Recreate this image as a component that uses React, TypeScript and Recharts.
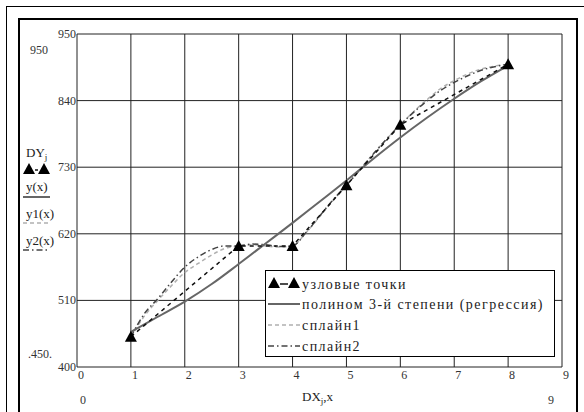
import React from 'react';
import { LineChart, Line, XAxis, YAxis, CartesianGrid } from 'recharts';

// axes
const X_TICKS = [0, 1, 2, 3, 4, 5, 6, 7, 8, 9];
const Y_TICKS = [400, 510, 620, 730, 840, 950];

// node points DX_j, DY_j
const NODE_X = [1, 3, 4, 5, 6, 8];
const NODE_Y = [450, 600, 600, 700, 800, 900];

// cubic regression y(x)
const POLY_X = [1, 1.5, 2, 2.5, 3, 3.5, 4, 4.5, 5, 5.5, 6, 6.5, 7, 7.5, 8];
const POLY_Y = [458, 483, 508, 537, 570, 604, 638, 673, 708, 744, 779, 812, 843, 872, 898];

// splines y1(x), y2(x)
const SPLINE_X = [1, 1.25, 1.5, 1.75, 2, 2.25, 2.5, 2.75, 3, 3.25, 3.5, 3.75, 4, 4.25, 4.5, 4.75, 5, 5.25, 5.5, 5.75, 6, 6.25, 6.5, 6.75, 7, 7.25, 7.5, 7.75, 8];
const SPLINE1_Y = [450, 484, 510, 534, 556, 571, 585, 596, 600, 602, 600, 598, 600, 622, 648, 675, 700, 726, 752, 777, 800, 822, 842, 860, 873, 884, 892, 897, 900];
const SPLINE2_Y = [450, 488, 513, 540, 565, 582, 594, 600, 600, 603, 602, 599, 600, 622, 649, 676, 700, 726, 752, 777, 800, 821, 840, 857, 870, 881, 890, 896, 900];

const LEGEND_LABELS = ['узловые точки', 'полином 3-й степени (регрессия)', 'сплайн1', 'сплайн2'];

const zip = (xs: number[], ys: number[]) => xs.map((x, i) => ({ x, y: ys[i] }));
const nodes = zip(NODE_X, NODE_Y);
const poly = zip(POLY_X, POLY_Y);
const spline1 = zip(SPLINE_X, SPLINE1_Y);
const spline2 = zip(SPLINE_X, SPLINE2_Y);

const FONT = '"Liberation Serif", "DejaVu Serif", serif';
const STYLES = {
  nodes: { stroke: '#111', strokeWidth: 1.5, strokeDasharray: '4 4' },
  poly: { stroke: '#666', strokeWidth: 2, strokeDasharray: undefined },
  s1: { stroke: '#b0b0b0', strokeWidth: 1.5, strokeDasharray: '4 3' },
  s2: { stroke: '#444', strokeWidth: 1.5, strokeDasharray: '6 3 1.5 3' },
};

const tri = (cx: number, cy: number) => `M${cx},${cy - 6} L${cx + 6},${cy + 5} L${cx - 6},${cy + 5} Z`;

const Triangle = (p: any) => (p.cx == null ? null : <path d={tri(p.cx, p.cy)} fill="#000" />);

// plot box: x 77..562, y 34..367
const XTick = ({ x, y, payload }: any) => (
  <text x={x + 1} y={y + 12} fontFamily={FONT} fontSize={12} fill="#333">{payload.value}</text>
);
const YTick = ({ x, y, payload }: any) => (
  <text x={x - 1} y={y + 4} textAnchor="end" fontFamily={FONT} fontSize={12} fill="#333">{payload.value}</text>
);

const Sample = ({ kind, x, y, w }: { kind: string; x: number; y: number; w: number }) => {
  if (kind === 'nodes')
    return (
      <g>
        <path d={tri(x + 6, y - 1)} fill="#000" />
        <line x1={x + 12} x2={x + w - 12} y1={y} y2={y} stroke="#111" strokeWidth={1.5} />
        <path d={tri(x + w - 6, y - 1)} fill="#000" />
      </g>
    );
  const s = (STYLES as any)[kind];
  return <line x1={x} x2={x + w} y1={y} y2={y} stroke={s.stroke} strokeWidth={s.strokeWidth} strokeDasharray={s.strokeDasharray} />;
};

export default function App() {
  const kinds = ['nodes', 'poly', 's1', 's2'];
  const rowY = [284, 304, 325, 346];
  return (
    <div style={{ position: 'absolute', left: 0, top: 0, width: 584, height: 412, background: '#fff', overflow: 'hidden' }}>
      <svg width={584} height={412} style={{ position: 'absolute', left: 0, top: 0 }} fontFamily={FONT}>
        <rect x={6.5} y={6.5} width={640} height={440} fill="none" stroke="#000" strokeWidth={1} />
        <path d="M19,420 L19,19 L577,19 L577,420" fill="none" stroke="#000" strokeWidth={2} />
        <text x={30} y={54} fontSize={12} fill="#333">950</text>
        <text x={26} y={157} fontSize={13} fill="#222">DY<tspan fontSize={9} dy={3}>j</tspan></text>
        <Sample kind="nodes" x={23} y={170} w={27} />
        <text x={26} y={191} fontSize={13} fill="#222">y(x)</text>
        <Sample kind="poly" x={23} y={197} w={27} />
        <text x={26} y={218} fontSize={13} fill="#222">y1(x)</text>
        <Sample kind="s1" x={23} y={223} w={27} />
        <text x={26} y={245} fontSize={13} fill="#222">y2(x)</text>
        <Sample kind="s2" x={23} y={250} w={27} />
        <text x={28} y={358} fontSize={12} fill="#333">.450.</text>
        <text x={80} y={404} fontSize={12} fill="#333">0</text>
        <text x={548} y={404} fontSize={12} fill="#333">9</text>
        <text x={302} y={401} fontSize={13} fill="#222">DX<tspan fontSize={9} dy={3}>j</tspan><tspan dy={-3}>,x</tspan></text>
      </svg>
      <div style={{ position: 'absolute', left: 0, top: 0 }}>
        <LineChart width={584} height={412} margin={{ top: 34, right: 22, bottom: 25, left: 37 }}>
          <CartesianGrid stroke="#222" strokeWidth={1} fill="none" />
          <XAxis type="number" dataKey="x" domain={[0, 9]} ticks={X_TICKS} height={20} axisLine={false} tickLine={false} tickSize={0} tickMargin={0} tick={<XTick />} interval={0} allowDataOverflow />
          <YAxis type="number" dataKey="y" domain={[400, 950]} ticks={Y_TICKS} width={40} axisLine={false} tickLine={false} tickSize={0} tickMargin={0} tick={<YTick />} interval={0} allowDataOverflow />
          <Line data={spline1} dataKey="y" type="monotone" dot={false} {...STYLES.s1} isAnimationActive={false} />
          <Line data={spline2} dataKey="y" type="monotone" dot={false} {...STYLES.s2} isAnimationActive={false} />
          <Line data={poly} dataKey="y" type="monotone" dot={false} {...STYLES.poly} isAnimationActive={false} />
          <Line data={nodes} dataKey="y" type="linear" dot={<Triangle />} {...STYLES.nodes} isAnimationActive={false} />
        </LineChart>
      </div>
      <div style={{ position: 'absolute', left: 265, top: 270, width: 290, height: 87, border: '1px solid #000', boxSizing: 'border-box', background: '#fff' }}>
        <svg width={288} height={85} fontFamily={FONT}>
          {LEGEND_LABELS.map((label, i) => (
            <g key={label}>
              <Sample kind={kinds[i]} x={2} y={rowY[i] - 271} w={32} />
              <text x={36} y={rowY[i] - 271 + 5} fontSize={14} letterSpacing={1.45} fill="#222">{label}</text>
            </g>
          ))}
        </svg>
      </div>
    </div>
  );
}
